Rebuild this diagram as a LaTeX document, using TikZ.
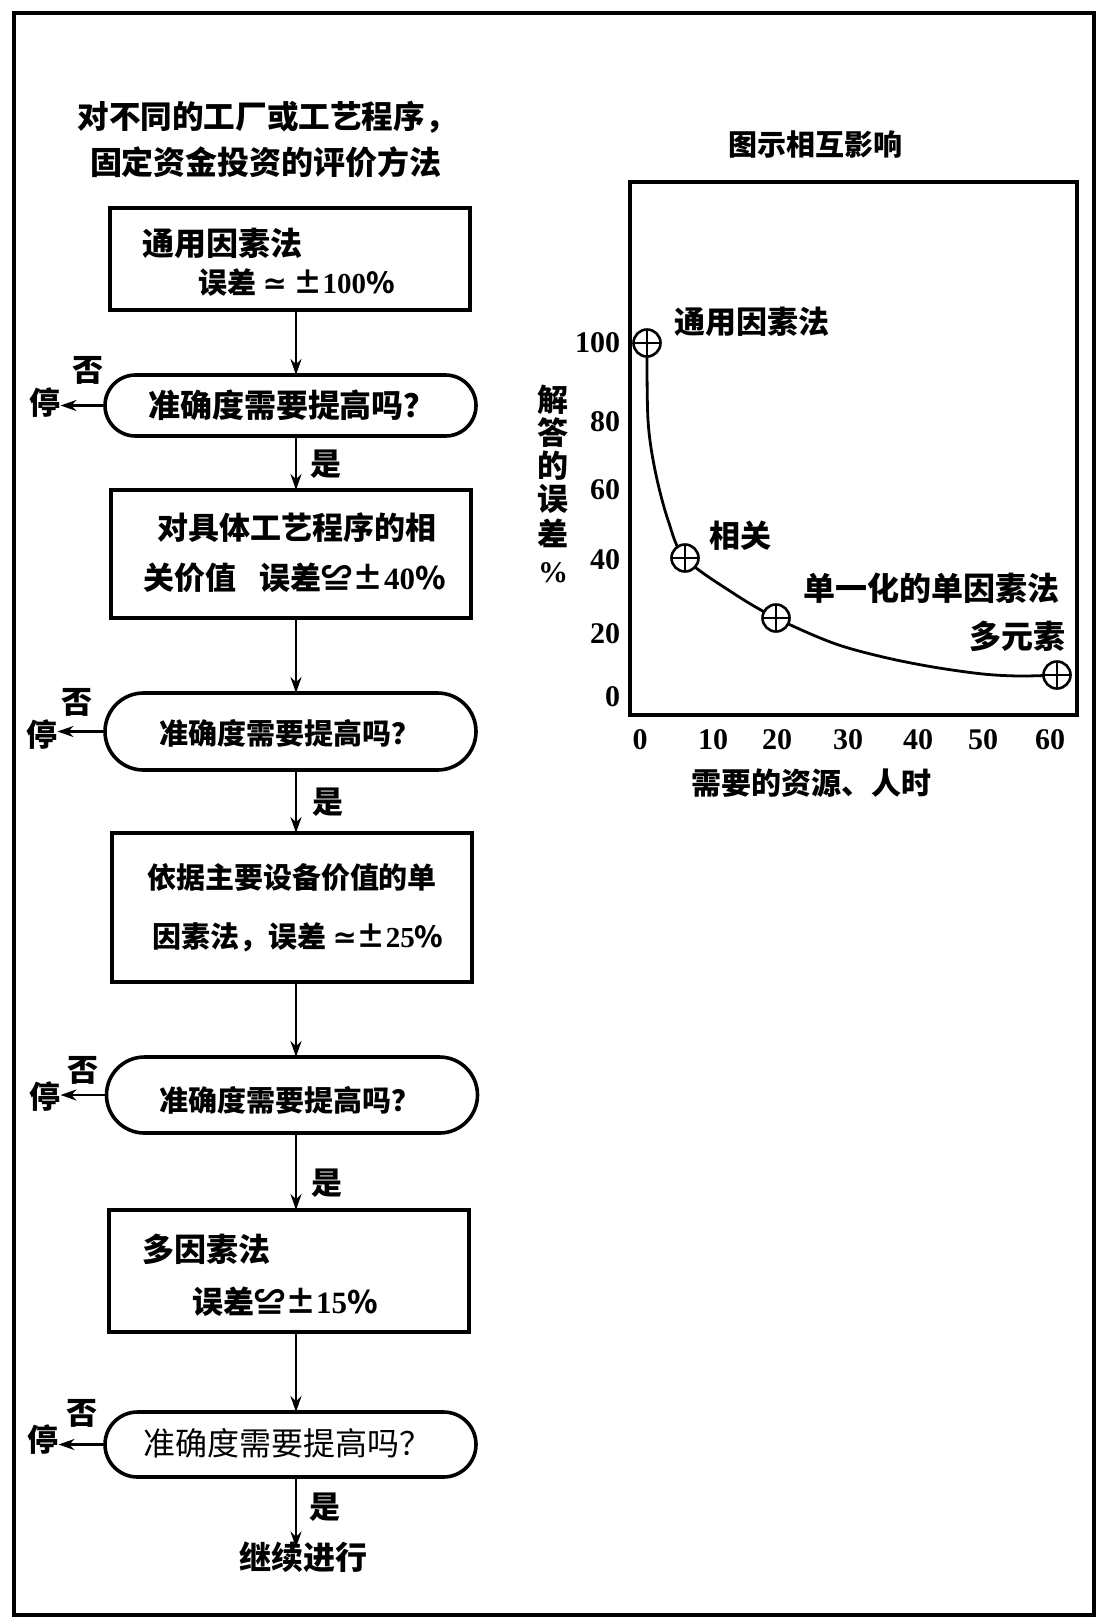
\documentclass[tikz,border=0pt]{standalone}
\usepackage{fontspec}
\setmainfont{Liberation Serif}
\newfontfamily\cjk{Noto Sans CJK SC}
\newfontfamily\djv{DejaVu Sans}
\usetikzlibrary{arrows.meta,shapes.misc}
\newcommand{\fs}[1]{\fontsize{#1}{#1}\selectfont}
\tikzset{
  every node/.style={inner sep=0pt, outer sep=0pt},
  txt/.style={font=\cjk\bfseries\fs{15.5}},
  txtS/.style={font=\cjk\bfseries\fs{14.5}},
  txtL/.style={font=\cjk\fs{16}},
  numlab/.style={font=\rmfamily\bfseries\fs{15}},
  procbox/.style={draw, line width=1.8pt, minimum width=180pt},
  termbox/.style={draw, line width=1.8pt, rounded rectangle, minimum width=185.5pt},
  flow/.style={line width=1.4pt, -{Stealth[length=8pt,width=5.5pt]}},
  datapt/.style={circle, draw, line width=1.3pt, fill=white, minimum size=13.5pt,
    path picture={\draw[line width=1.1pt] (path picture bounding box.north) -- (path picture bounding box.south)
      (path picture bounding box.west) -- (path picture bounding box.east);}},
}
\begin{document}
\begin{tikzpicture}[x=0.5pt,y=-0.5pt]
\useasboundingbox (0,0) rectangle (1098,1623);
\fill[white] (0,0) rectangle (1098,1623);
% outer frame
\draw[line width=2pt] (14,13) rectangle (1094,1615);

% title
\node[txt, font=\cjk\bfseries\fs{15.8}] (title1) at (267,117) {对不同的工厂或工艺程序，};
\node[txt, font=\cjk\bfseries\fs{16}] (title2) at (266,162) {固定资金投资的评价方法};

\coordinate (cx) at (296,0);

% box 1
\node[procbox, minimum height=51pt] (b1) at (290,259) {};
\node[txt, font=\cjk\bfseries\fs{16}, anchor=west] (b1a) at (142,243) {通用因素法};
\node[txtS, anchor=west] (b1b) at (198,282) {误差 {\djv ≃} ±{\rmfamily 100}\%};

% terminal 1
\node[termbox, minimum height=30.5pt] (t1) at (290.5,405.5) {};
\node[txt, font=\cjk\bfseries\fs{16}] (t1t) at (292,405) {准确度需要提高吗？};
\node[txt] (n1) at (88,370) {否};
\node[txt] (s1) at (45,403) {停};

% box 2
\node[procbox, minimum height=64pt] (b2) at (291,554) {};
\node[txt, anchor=west] (b2a) at (157,528) {对具体工艺程序的相};
\node[txt, anchor=west] (b2b) at (143,578) {关价值\hspace{12pt}误差≌±{\rmfamily 40}\%};

% terminal 2
\node[termbox, minimum height=38.5pt] (t2) at (290.5,731.5) {};
\node[txt, font=\cjk\bfseries\fs{14.5}] (t2t) at (290,733) {准确度需要提高吗？};
\node[txt] (n2) at (77,702) {否};
\node[txt] (s2) at (42,735) {停};

% box 3
\node[procbox, minimum height=74.5pt] (b3) at (292,907.5) {};
\node[txtS, anchor=west] (b3a) at (147,878) {依据主要设备价值的单};
\node[txtS, anchor=west] (b3b) at (152,937) {因素法，误差 {\djv ≃}±{\rmfamily 25}\%};

% terminal 3
\node[termbox, minimum height=38pt] (t3) at (292,1095) {};
\node[txt, font=\cjk\bfseries\fs{14.5}] (t3t) at (290,1100) {准确度需要提高吗？};
\node[txt] (n3) at (83,1070) {否};
\node[txt] (s3) at (45,1097) {停};

% box 4
\node[procbox, minimum height=61pt] (b4) at (289,1271) {};
\node[txt, font=\cjk\bfseries\fs{16}, anchor=west] (b4a) at (142,1249) {多因素法};
\node[txt, anchor=west] (b4b) at (192,1302) {误差≌±{\rmfamily 15}\%};

% terminal 4
\node[termbox, minimum height=32.5pt] (t4) at (290.5,1444.5) {};
\node[txtL] (t4t) at (287,1443) {准确度需要提高吗？};
\node[txt] (n4) at (82,1413) {否};
\node[txt] (s4) at (43,1440) {停};

\node[txt, font=\cjk\bfseries\fs{16}] (cont) at (303,1557) {继续进行};

% yes labels
\node[txt] (y1) at (326,464) {是};
\node[txt] (y2) at (328,802) {是};
\node[txt] (y3) at (327,1183) {是};
\node[txt] (y4) at (325,1507) {是};

% connectors
\draw[flow] (b1.south -| cx) -- (t1.north -| cx);
\draw[flow] (t1.south -| cx) -- (b2.north -| cx);
\draw[flow] (b2.south -| cx) -- (t2.north -| cx);
\draw[flow] (t2.south -| cx) -- (b3.north -| cx);
\draw[flow] (b3.south -| cx) -- (t3.north -| cx);
\draw[flow] (t3.south -| cx) -- (b4.north -| cx);
\draw[flow] (b4.south -| cx) -- (t4.north -| cx);
\draw[flow] (t4.south -| cx) -- ([yshift=-3pt]cont.north -| cx);
\draw[flow] (t1.west) -- (t1.west -| s1.east);
\draw[flow] (t2.west) -- (t2.west -| s2.east);
\draw[flow] (t3.west) -- (t3.west -| s3.east);
\draw[flow] (t4.west) -- (t4.west -| s4.east);

% ---- chart ----
\node[txt, font=\cjk\bfseries\fs{14.5}] (ctitle) at (815,144) {图示相互影响};
\draw[line width=1.8pt] (630,182) rectangle (1077,715);
\foreach \v/\y in {100/343,80/422,60/490,40/560,20/634,0/697}
  \node[numlab, anchor=east] at (620,\y) {\v};
\foreach \v/\x in {0/640,10/713,20/777,30/848,40/918,50/983,60/1050}
  \node[numlab] at (\x,740) {\v};
\node[txt, font=\cjk\bfseries\fs{15}] (xlab) at (811,783) {需要的资源、人时};
\foreach \c/\y in {解/400,答/433,的/466,误/499,差/533}
  \node[txt] at (553,\y) {\c};
\node[numlab] at (553,573) {\%};

\draw[line width=1.4pt] plot[smooth, tension=0.55] coordinates
  {(647,343) (648,420) (655,470) (668,520) (685,558) (733,593) (776,618)
   (833,643) (883,657) (933,667) (983,674) (1020,676) (1057,675)};
\node[datapt] (p1) at (647,343) {};
\node[datapt] (p2) at (685,558) {};
\node[datapt] (p3) at (776,618) {};
\node[datapt] (p4) at (1057,675) {};
\node[txt] (l1) at (752,322) {通用因素法};
\node[txt] (l2) at (740,536) {相关};
\node[txt, font=\cjk\bfseries\fs{16}] (l3) at (931,588) {单一化的单因素法};
\node[txt, font=\cjk\bfseries\fs{16}] (l4) at (1017,636) {多元素};
\end{tikzpicture}
\end{document}
